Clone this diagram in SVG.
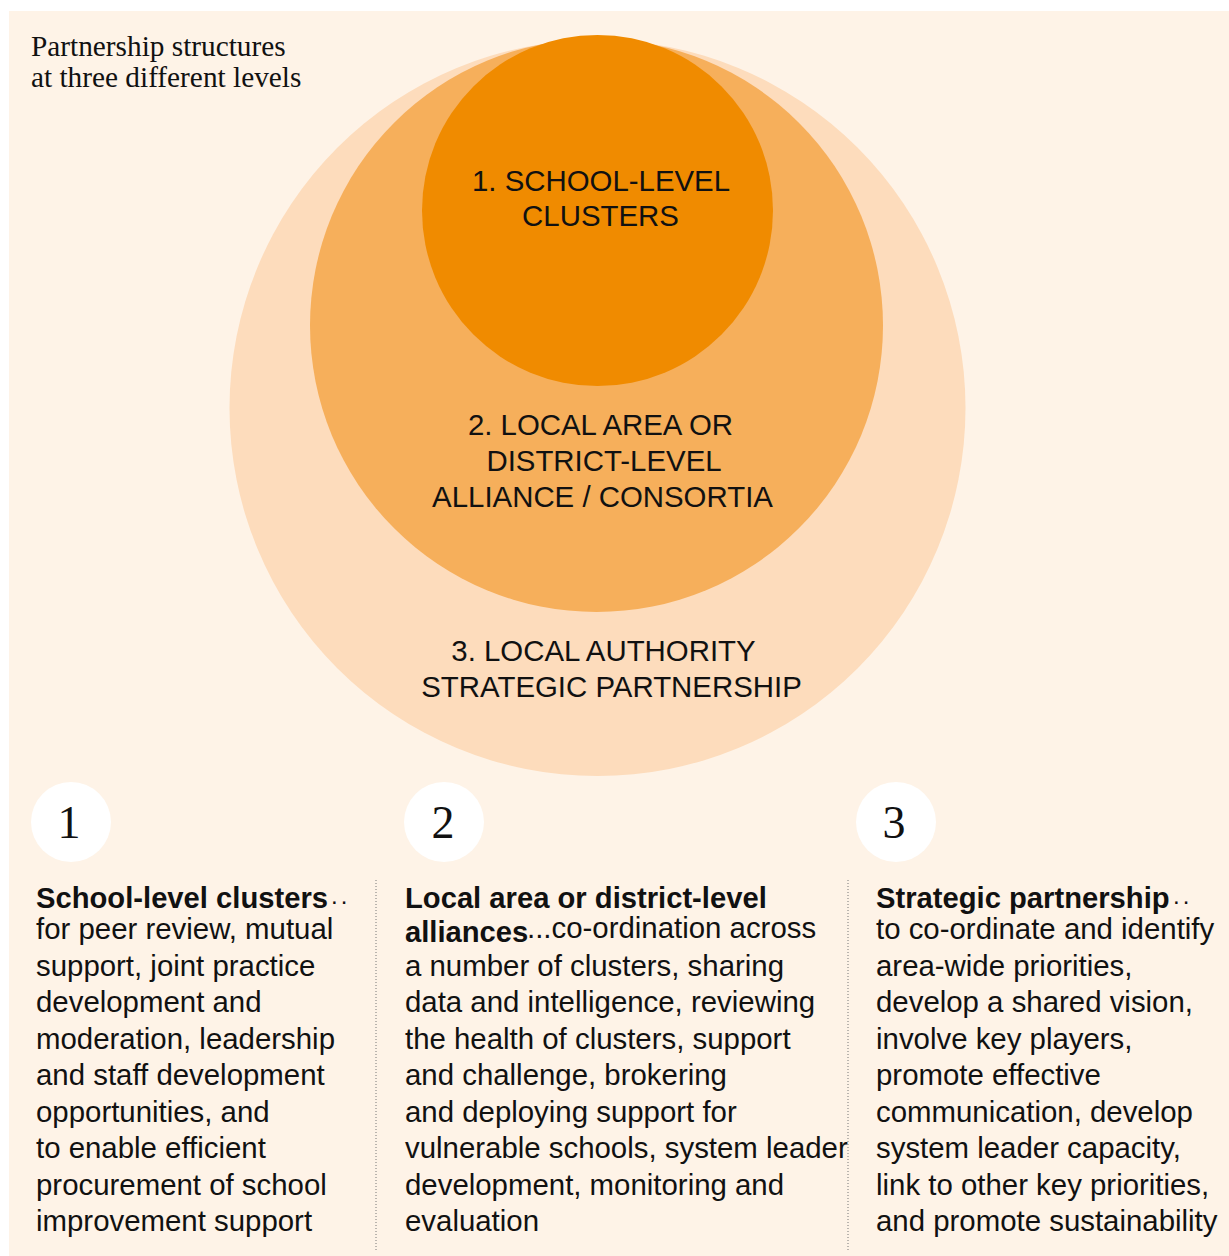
<svg xmlns="http://www.w3.org/2000/svg" width="1229" height="1256" viewBox="0 0 1229 1256">
  <style>
    .title { font-family: "Liberation Serif", "Times New Roman", serif; font-size: 29.3px; fill: #111; }
    .ring { font-family: "Liberation Sans", Arial, sans-serif; font-size: 29.4px; fill: #111; text-anchor: middle; }
    .num { font-family: "Liberation Serif", "Times New Roman", serif; font-size: 46px; fill: #111; text-anchor: middle; }
    .body { font-family: "Liberation Sans", Arial, sans-serif; font-size: 29.4px; fill: #111; }
    .head { font-family: "Liberation Sans", Arial, sans-serif; font-size: 29.2px; font-weight: bold; fill: #111; }
    .dots { font-family: "Liberation Sans", Arial, sans-serif; font-size: 24px; letter-spacing: 3px; fill: #111; }
    .sep { stroke: #777; stroke-width: 1; stroke-dasharray: 1 2; fill: none; }
    .badge { fill: #ffffff; }
  </style>

  <!-- page -->
  <rect x="0" y="0" width="1229" height="1256" fill="#ffffff"/>
  <rect x="9" y="11" width="1220" height="1245" fill="#fef3e7"/>

  <text class="title" x="31" y="56">Partnership structures</text>
  <text class="title" x="31" y="87">at three different levels</text>

  <!-- nested levels -->
  <g id="level3">
    <circle cx="597.5" cy="408" r="368" fill="#fddcbc"/>
    <text class="ring" x="603.5" y="661">3. LOCAL AUTHORITY</text>
    <text class="ring" x="611.5" y="697">STRATEGIC PARTNERSHIP</text>
  </g>
  <g id="level2">
    <circle cx="596.5" cy="325.5" r="286.5" fill="#f6af5b"/>
    <text class="ring" x="600.5" y="435">2. LOCAL AREA OR</text>
    <text class="ring" x="604" y="471">DISTRICT-LEVEL</text>
    <text class="ring" x="602.5" y="507">ALLIANCE / CONSORTIA</text>
  </g>
  <g id="level1">
    <circle cx="597.5" cy="210.5" r="175.5" fill="#f08b00"/>
    <text class="ring" x="601" y="191">1. SCHOOL-LEVEL</text>
    <text class="ring" x="600.5" y="226">CLUSTERS</text>
  </g>

  <!-- column separators -->
  <g id="separators">
    <line class="sep" x1="376" y1="880" x2="376" y2="1250"/>
    <line class="sep" x1="848" y1="880" x2="848" y2="1250"/>
  </g>

  <!-- column 1 -->
  <g id="column1">
    <circle class="badge" cx="71" cy="822" r="40"/>
    <text class="num" x="69" y="838">1</text>
    <text class="head" x="36" y="908">School-level clusters</text>
    <text class="dots" x="331" y="904">..</text>
    <text class="body" x="36" y="939">for peer review, mutual</text>
    <text class="body" x="36" y="976">support, joint practice</text>
    <text class="body" x="36" y="1012">development and</text>
    <text class="body" x="36" y="1049">moderation, leadership</text>
    <text class="body" x="36" y="1085">and staff development</text>
    <text class="body" x="36" y="1122">opportunities, and</text>
    <text class="body" x="36" y="1158">to enable efficient</text>
    <text class="body" x="36" y="1195">procurement of school</text>
    <text class="body" x="36" y="1231">improvement support</text>
  </g>

  <!-- column 2 -->
  <g id="column2">
    <circle class="badge" cx="444" cy="822" r="40"/>
    <text class="num" x="443" y="838">2</text>
    <text class="head" x="405" y="908">Local area or district-level</text>
    <text class="head" x="405" y="942">alliances</text>
    <text class="body" x="527" y="938">...co-ordination across</text>
    <text class="body" x="405" y="976">a number of clusters, sharing</text>
    <text class="body" x="405" y="1012">data and intelligence, reviewing</text>
    <text class="body" x="405" y="1049">the health of clusters, support</text>
    <text class="body" x="405" y="1085">and challenge, brokering</text>
    <text class="body" x="405" y="1122">and deploying support for</text>
    <text class="body" x="405" y="1158">vulnerable schools, system leader</text>
    <text class="body" x="405" y="1195">development, monitoring and</text>
    <text class="body" x="405" y="1231">evaluation</text>
  </g>

  <!-- column 3 -->
  <g id="column3">
    <circle class="badge" cx="896" cy="822" r="40"/>
    <text class="num" x="894" y="838">3</text>
    <text class="head" x="876" y="908">Strategic partnership</text>
    <text class="dots" x="1173" y="904">..</text>
    <text class="body" x="876" y="939">to co-ordinate and identify</text>
    <text class="body" x="876" y="976">area-wide priorities,</text>
    <text class="body" x="876" y="1012">develop a shared vision,</text>
    <text class="body" x="876" y="1049">involve key players,</text>
    <text class="body" x="876" y="1085">promote effective</text>
    <text class="body" x="876" y="1122">communication, develop</text>
    <text class="body" x="876" y="1158">system leader capacity,</text>
    <text class="body" x="876" y="1195">link to other key priorities,</text>
    <text class="body" x="876" y="1231">and promote sustainability</text>
  </g>
</svg>
